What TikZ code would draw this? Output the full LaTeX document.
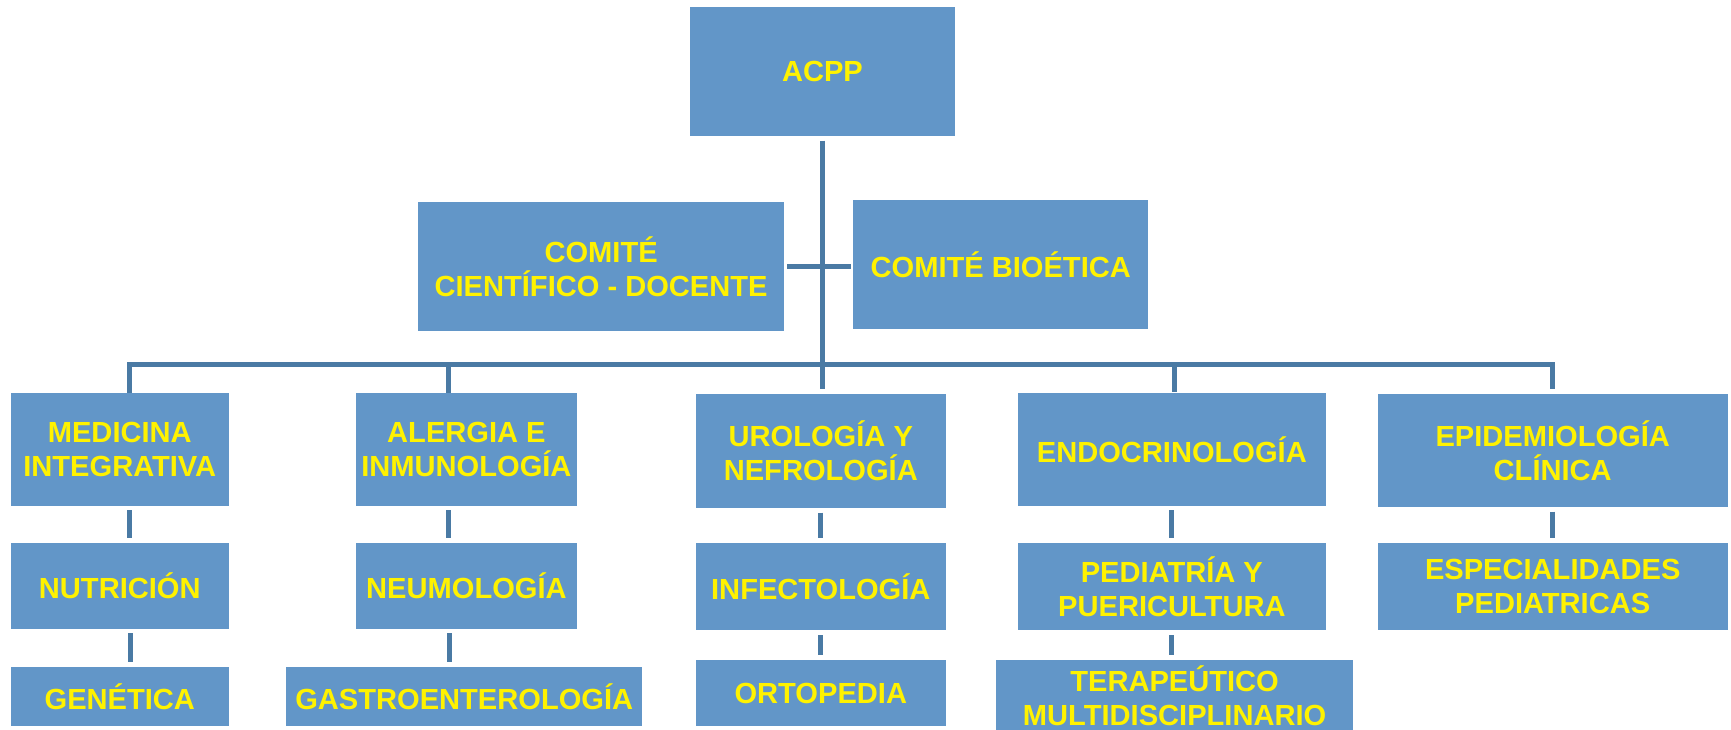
\documentclass[tikz,border=0pt]{standalone}
\usepackage{fontspec}
\setmainfont{Liberation Sans}
\definecolor{boxblue}{RGB}{98,150,200}
\definecolor{linkblue}{RGB}{74,122,164}

\begin{document}
\begin{tikzpicture}[x=0.02cm, y=-0.02cm,
    block/.style={rectangle, fill=boxblue, text=yellow, font=\fontsize{15}{17.6}\selectfont\bfseries, align=center, inner sep=0pt},
    link/.style={draw=linkblue, line width=0.09cm},
    gap/.style={shorten <=0.08cm, shorten >=0.08cm}]
    \useasboundingbox (0,0) rectangle (1568,661);

    % Top
    \node[block, minimum width=4.8cm, minimum height=2.34cm] (acpp) at (745,64.5) {ACPP};

    % Committees
    \node[block, minimum width=6.62cm, minimum height=2.34cm] (cientifico) at (544.5,241.5) {COMITÉ\\CIENTÍFICO - DOCENTE};
    \node[block, minimum width=5.34cm, minimum height=2.34cm] (bioetica) at (906.5,239.5) {COMITÉ BIOÉTICA};

    % First row
    \node[block, minimum width=3.94cm, minimum height=2.04cm] (med) at (108.5,407) {MEDICINA\\INTEGRATIVA};
    \node[block, minimum width=4.02cm, minimum height=2.04cm] (ale) at (422.5,407) {ALERGIA E\\INMUNOLOGÍA};
    \node[block, minimum width=4.54cm, minimum height=2.06cm] (uro) at (743.5,408.5) {UROLOGÍA Y\\NEFROLOGÍA};
    \node[block, minimum width=5.58cm, minimum height=2.04cm] (endo) at (1061.5,407) {ENDOCRINOLOGÍA};
    \node[block, minimum width=6.34cm, minimum height=2.04cm] (epi) at (1406.5,408) {EPIDEMIOLOGÍA\\CLÍNICA};

    % Second row
    \node[block, minimum width=3.94cm, minimum height=1.56cm] (nut) at (108.5,530.5) {NUTRICIÓN};
    \node[block, minimum width=4.02cm, minimum height=1.56cm] (neu) at (422.5,530.5) {NEUMOLOGÍA};
    \node[block, minimum width=4.54cm, minimum height=1.58cm] (inf) at (743.5,531.5) {INFECTOLOGÍA};
    \node[block, minimum width=5.58cm, minimum height=1.58cm] (ped) at (1061.5,531.5) {PEDIATRÍA Y\\PUERICULTURA};
    \node[block, minimum width=6.34cm, minimum height=1.58cm] (esp) at (1406.5,531.5) {ESPECIALIDADES\\PEDIATRICAS};

    % Third row
    \node[block, minimum width=3.94cm, minimum height=1.08cm] (gen) at (108.5,631) {GENÉTICA};
    \node[block, minimum width=6.46cm, minimum height=1.08cm] (gas) at (420.5,631) {GASTROENTEROLOGÍA};
    \node[block, minimum width=4.54cm, minimum height=1.2cm] (ort) at (743.5,628) {ORTOPEDIA};
    \node[block, minimum width=6.48cm, minimum height=1.28cm] (ter) at (1064,630) {TERAPEÚTICO\\MULTIDISCIPLINARIO};

    % Trunk and committees
    \draw[link, gap] (acpp.south) -- (acpp.south |- uro.north);
    \draw[link, shorten <=0.06cm, shorten >=0.04cm] (cientifico.east) -- (cientifico.east -| bioetica.west);

    % Bus
    \coordinate (bus) at (745,330);
    \draw[link, shorten >=0.08cm] ([xshift=0.17cm]med.north) |- (bus -| epi.north) -- (epi.north);
    \draw[link] ([xshift=-0.33cm]ale.north |- bus) -- ([xshift=-0.33cm]ale.north);
    \draw[link, shorten >=0.02cm] ([xshift=0.05cm]endo.north |- bus) -- ([xshift=0.05cm]endo.north);

    % Columns
    \draw[link, gap] ([xshift=0.18cm]med.south) -- ([xshift=0.18cm]med.south |- nut.north);
    \draw[link, gap] ([xshift=0.19cm]nut.south) -- ([xshift=0.19cm]nut.south |- gen.north);
    \draw[link, gap] ([xshift=-0.32cm]ale.south) -- ([xshift=-0.32cm]ale.south |- neu.north);
    \draw[link, gap] ([xshift=-0.30cm]neu.south) -- ([xshift=-0.30cm]neu.south |- gas.north);
    \draw[link, gap] (uro) -- (inf);
    \draw[link, gap] (inf) -- (ort);
    \draw[link, gap] (endo) -- (ped);
    \draw[link, gap] (ped) -- (ped |- ter.north);
    \draw[link, gap] (epi) -- (esp);
\end{tikzpicture}
\end{document}
